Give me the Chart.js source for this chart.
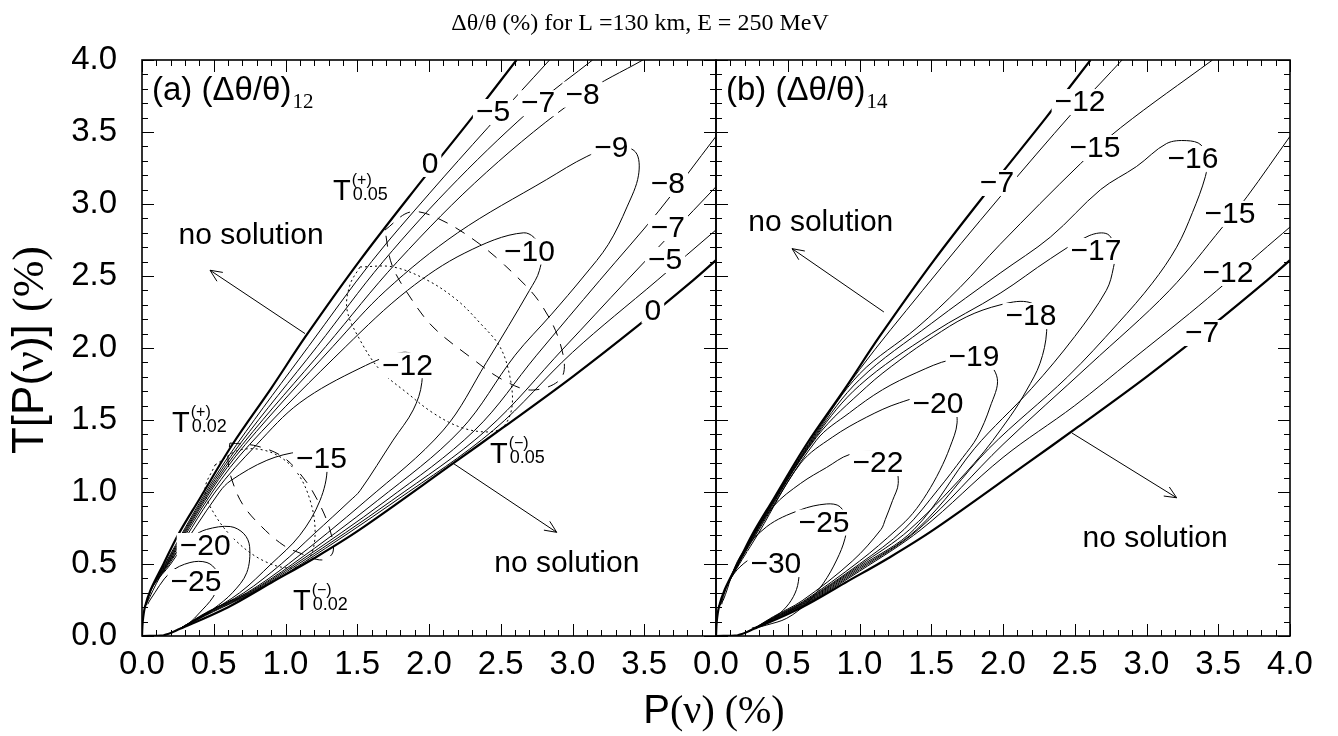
<!DOCTYPE html>
<html>
<head>
<meta charset="utf-8">
<script src="https://cdn.jsdelivr.net/npm/chart.js@4.4.1/dist/chart.umd.min.js"></script>
<style>
  html, body { margin:0; padding:0; background:#ffffff; }
  #wrap { position:relative; width:1338px; height:736px; overflow:hidden; background:#fff; }
  #wrap canvas { position:absolute; left:0; top:0; }
</style>
</head>
<body>
<div id="wrap">
  <canvas id="chartA" width="1338" height="736"></canvas>
  <canvas id="chartB" width="1338" height="736"></canvas>
</div>
<script>
// ================= DATA =================
const figureTitle = 'Δθ/θ (%) for L =130 km, E = 250 MeV';
const xAxisTitle = ['P', '(ν) (%)'];
const yAxisTitle = ['T[P(', 'ν', ')] ', '(%)'];
const axisMin = 0, axisMax = 4, majorStep = 0.5, minorStep = 0.1;

// boundaries T(+)0.05 (upper) and T(-)0.05 (lower), same in both panels
const boundUpper = [[0,0],[0.005,0.1],[0.02,0.2],[0.06,0.32],[0.15,0.5],[0.25,0.7],[0.4,0.95],[0.63,1.33],[0.9,1.72],[1.14,2.08],[1.52,2.61],[1.94,3.15],[2.3,3.6],[2.61,4.0]];
const boundLower = [[0,0],[0.15,0.005],[0.265,0.05],[0.6,0.2],[0.9,0.37],[1.2,0.54],[1.52,0.74],[2.17,1.2],[2.52,1.45],[3.0,1.8],[3.45,2.15],[3.84,2.47],[4.0,2.61]];

// panel (a): (Δθ/θ)12 contours
const a_m5  = [[0.02,0.2],[0.07,0.34],[0.16,0.5],[0.445,1.0],[0.66,1.33],[1.16,2.01],[1.6,2.6],[2.0,3.07],[2.41,3.53],[2.84,4.0],null,[4.0,2.82],[3.59,2.47],[3.0,1.97],[2.45,1.43],[1.77,0.94],[1.11,0.5],[0.77,0.3],[0.5,0.17],[0.27,0.055]];
const a_m7  = [[0.02,0.2],[0.07,0.34],[0.165,0.5],[0.455,1.0],[0.68,1.33],[1.22,2.01],[1.68,2.6],[2.2,3.17],[2.76,3.7],[3.14,4.0],null,[4.0,3.12],[3.38,2.47],[2.94,2.0],[2.40,1.43],[1.74,0.94],[1.09,0.5],[0.76,0.3],[0.49,0.17],[0.27,0.055]];
const a_m8  = [[0.02,0.2],[0.07,0.34],[0.17,0.5],[0.465,1.0],[0.70,1.33],[1.28,2.01],[1.78,2.6],[2.4,3.22],[3.07,3.76],[3.49,4.0],null,[4.0,3.47],[3.6,2.95],[3.19,2.47],[2.75,1.95],[2.32,1.43],[1.70,0.94],[1.07,0.5],[0.75,0.3],[0.48,0.17],[0.27,0.055]];
const a_m9  = [[0.02,0.2],[0.07,0.34],[0.175,0.5],[0.475,1.0],[0.72,1.33],[1.33,2.01],[1.7,2.4],[2.2,2.8],[2.82,3.17],[3.1,3.33],[3.3,3.40],[3.44,3.36],[3.46,3.2],[3.38,2.98],[3.25,2.72],[3.08,2.5],[2.85,2.23],[2.6,1.95],[2.22,1.43],[1.64,0.94],[1.05,0.5],[0.74,0.3],[0.47,0.17],[0.27,0.055]];
const a_m10 = [[0.02,0.2],[0.07,0.34],[0.18,0.5],[0.49,1.0],[0.75,1.33],[1.42,2.01],[1.85,2.4],[2.25,2.66],[2.66,2.80],[2.78,2.70],[2.77,2.54],[2.70,2.40],[2.4,1.9],[2.10,1.43],[1.56,0.94],[1.02,0.5],[0.73,0.3],[0.46,0.17],[0.27,0.055]];
const a_m12 = [[0.02,0.2],[0.07,0.34],[0.19,0.5],[0.51,1.0],[0.80,1.33],[1.1,1.62],[1.52,1.86],[1.82,1.97],[1.93,1.92],[1.95,1.76],[1.89,1.57],[1.75,1.36],[1.52,1.01],[1.45,0.94],[1.2,0.71],[0.97,0.5],[0.71,0.3],[0.45,0.16],[0.27,0.055]];
const a_m15 = [[0.02,0.2],[0.08,0.35],[0.2,0.5],[0.54,1.0],[0.62,1.08],[0.87,1.22],[1.10,1.28],[1.24,1.27],[1.29,1.17],[1.24,0.94],[1.1,0.7],[0.9,0.5],[0.68,0.3],[0.44,0.15],[0.27,0.055]];
const a_m20 = [[0.03,0.22],[0.125,0.41],[0.24,0.58],[0.355,0.69],[0.45,0.74],[0.615,0.76],[0.71,0.71],[0.75,0.62],[0.73,0.44],[0.63,0.30],[0.5,0.19],[0.38,0.11],[0.27,0.055]];
const a_m25 = [[0.04,0.22],[0.056,0.25],[0.195,0.44],[0.334,0.51],[0.453,0.51],[0.52,0.45],[0.53,0.36],[0.495,0.27],[0.40,0.16],[0.33,0.09],[0.27,0.055]];
// error ellipses in panel (a)
const a_dash05 = [[1.693,2.819],[1.868,2.944],[2.056,2.903],[2.334,2.736],[2.585,2.521],[2.774,2.313],[2.913,2.035],[2.927,1.799],[2.725,1.708],[2.516,1.778],[2.286,1.938],[2.028,2.146],[1.868,2.354],[1.742,2.576],[1.693,2.819]];
const a_dot05  = [[1.519,2.563],[1.749,2.563],[1.986,2.472],[2.195,2.333],[2.355,2.174],[2.495,2.007],[2.564,1.799],[2.578,1.590],[2.516,1.451],[2.404,1.417],[2.216,1.451],[2.028,1.549],[1.847,1.688],[1.659,1.847],[1.519,2.056],[1.429,2.264],[1.449,2.438],[1.519,2.563]];
const a_dash02 = [[0.613,1.340],[0.801,1.319],[0.983,1.243],[1.136,1.083],[1.240,0.910],[1.310,0.736],[1.331,0.583],[1.254,0.528],[1.101,0.576],[0.983,0.632],[0.836,0.757],[0.704,0.910],[0.627,1.083],[0.599,1.222],[0.613,1.340]];
const a_dot02  = [[0.509,1.188],[0.683,1.292],[0.892,1.278],[1.066,1.153],[1.171,0.944],[1.206,0.701],[1.157,0.528],[1.031,0.472],[0.836,0.528],[0.648,0.667],[0.509,0.840],[0.439,1.014],[0.509,1.188]];

// panel (b): (Δθ/θ)14 contours
const b_m12 = [[0.02,0.2],[0.07,0.34],[0.3,0.775],[0.7,1.42],[1.0,1.85],[1.44,2.40],[1.98,3.05],[2.49,3.64],[2.68,3.84],[2.83,4.0],null,[4.0,2.84],[3.79,2.66],[3.55,2.45],[3.30,2.24],[2.9,1.92],[2.5,1.60],[2.0,1.24],[1.43,0.74],[1.0,0.45],[0.6,0.205],[0.4,0.11],[0.27,0.055]];
const b_m15 = [[0.02,0.2],[0.07,0.34],[0.3,0.77],[0.7,1.41],[1.0,1.82],[1.4,2.14],[1.70,2.42],[1.98,2.72],[2.54,3.28],[2.82,3.53],[3.46,4.0],null,[4.0,3.47],[3.70,3.05],[3.53,2.84],[3.16,2.40],[2.6,1.88],[2.0,1.33],[1.41,0.74],[1.0,0.46],[0.6,0.21],[0.4,0.115],[0.27,0.055]];
const b_m16 = [[0.02,0.2],[0.07,0.34],[0.3,0.765],[0.7,1.40],[1.0,1.78],[1.5,2.17],[1.98,2.52],[2.33,2.77],[2.68,3.10],[2.93,3.26],[3.14,3.42],[3.28,3.44],[3.38,3.41],[3.42,3.3],[3.41,3.19],[3.32,2.94],[3.21,2.70],[3.04,2.45],[2.80,2.17],[2.45,1.80],[1.9,1.30],[1.40,0.74],[1.0,0.47],[0.6,0.215],[0.4,0.12],[0.27,0.055]];
const b_m17 = [[0.02,0.2],[0.07,0.34],[0.3,0.76],[0.7,1.39],[1.0,1.74],[1.5,2.1],[1.98,2.38],[2.33,2.62],[2.6,2.78],[2.73,2.79],[2.78,2.68],[2.77,2.56],[2.72,2.40],[2.5,2.08],[2.2,1.72],[1.8,1.3],[1.38,0.74],[1.0,0.48],[0.6,0.22],[0.4,0.12],[0.27,0.055]];
const b_m18 = [[0.02,0.2],[0.07,0.34],[0.3,0.75],[0.7,1.38],[1.05,1.731],[1.282,1.917],[1.514,2.078],[1.747,2.217],[1.979,2.299],[2.165,2.321],[2.28,2.25],[2.304,2.113],[2.258,1.894],[2.165,1.708],[2.049,1.523],[1.8,1.2],[1.35,0.74],[1.0,0.49],[0.6,0.225],[0.4,0.125],[0.27,0.055]];
const b_m19 = [[0.02,0.2],[0.07,0.34],[0.3,0.74],[0.70,1.36],[0.93,1.55],[1.16,1.71],[1.40,1.83],[1.631,1.917],[1.85,1.93],[1.96,1.79],[1.91,1.59],[1.82,1.38],[1.72,1.24],[1.55,1.02],[1.31,0.74],[1.0,0.5],[0.6,0.23],[0.4,0.125],[0.27,0.055]];
const b_m20 = [[0.02,0.2],[0.07,0.34],[0.3,0.72],[0.59,1.20],[0.81,1.38],[1.05,1.52],[1.28,1.62],[1.51,1.67],[1.65,1.6],[1.68,1.48],[1.63,1.31],[1.56,1.15],[1.47,0.99],[1.37,0.85],[1.26,0.74],[1.0,0.52],[0.6,0.235],[0.4,0.13],[0.27,0.055]];
const b_m22 = [[0.02,0.2],[0.07,0.34],[0.2,0.6],[0.40,0.90],[0.59,1.06],[0.77,1.17],[0.93,1.26],[1.126,1.28],[1.24,1.2],[1.27,1.06],[1.23,0.94],[1.18,0.81],[1.15,0.74],[0.95,0.52],[0.6,0.245],[0.4,0.135],[0.27,0.055]];
const b_m25 = [[0.03,0.22],[0.051,0.25],[0.167,0.551],[0.353,0.759],[0.585,0.875],[0.771,0.917],[0.864,0.898],[0.91,0.8],[0.899,0.678],[0.841,0.528],[0.748,0.366],[0.632,0.227],[0.493,0.123],[0.353,0.076],[0.27,0.055]];
const b_m30 = [[0.04,0.22],[0.051,0.273],[0.098,0.389],[0.167,0.48],[0.284,0.5625],[0.376,0.585],[0.5,0.56],[0.57,0.48],[0.574,0.377],[0.539,0.273],[0.469,0.18],[0.376,0.111],[0.284,0.065],[0.25,0.055]];

// contour value labels: [text, x, y]
const labelsA = [['0',2.007,3.278],['−5',2.446,3.639],['−7',2.76,3.70],['−8',3.07,3.76],['−9',3.27,3.39],['−8',3.665,3.139],['−7',3.665,2.833],['−5',3.645,2.611],['0',3.56,2.26],['−10',2.70,2.67],['−12',1.85,1.88],['−15',1.25,1.23],['−20',0.44,0.625],['−25',0.376,0.375]];
const labelsB = [['−7',1.958,3.146],['−12',2.537,3.708],['−15',2.641,3.389],['−16',3.324,3.313],['−15',3.582,2.931],['−12',3.568,2.521],['−7',3.387,2.104],['−17',2.648,2.674],['−18',2.195,2.222],['−19',1.798,1.938],['−20',1.547,1.611],['−22',1.129,1.201],['−25',0.753,0.788],['−30',0.417,0.5]];
// "no solution" notes: [text, x, y]
const notesA = [['no solution',0.76,2.78],['no solution',2.96,0.50]];
const notesB = [['no solution',0.73,2.87],['no solution',3.06,0.674]];
// arrows: [x0, y0, x1, y1]
const arrowsA = [[1.136,2.10,0.474,2.54],[2.167,1.20,2.89,0.72]];
const arrowsB = [[1.17,2.25,0.53,2.69],[2.48,1.41,3.21,0.96]];
// boundary names: [sup, sub, x, y]
const tNamesA = [['(+)','0.05',1.331,3.028],['(+)','0.02',0.209,1.417],['(−)','0.05',2.425,1.201],['(−)','0.02',1.052,0.181]];
const panelNames = [['(a) (Δθ/θ)','12'],['(b) (Δθ/θ)','14']];

// ================= RENDERING =================
const SANS = '"Liberation Sans", Arial, Helvetica, sans-serif';
const SERIF = '"Liberation Serif", "Times New Roman", Times, serif';
const toPts = arr => arr.map(p => p ? {x:p[0], y:p[1]} : {x:null, y:null});

function ds(arr, w, dash) {
  return { data: toPts(arr), showLine:true, pointRadius:0, pointHoverRadius:0,
    borderColor:'#000', borderWidth:w, borderDash:dash || [], tension:0.35,
    fill:false, spanGaps:false };
}

const decor = {
  id:'decor',
  afterDatasetsDraw(chart, args, o) {
    const {ctx, chartArea:ca} = chart;
    const xs = chart.scales.x, ys = chart.scales.y;
    const X = v => xs.getPixelForValue(v), Y = v => ys.getPixelForValue(v);
    ctx.save();
    ctx.strokeStyle = '#000'; ctx.fillStyle = '#000'; ctx.lineWidth = 1;
    (o.arrows || []).forEach(a => {
      const x1 = X(a[0]), y1 = Y(a[1]), x2 = X(a[2]), y2 = Y(a[3]);
      ctx.beginPath(); ctx.moveTo(x1, y1); ctx.lineTo(x2, y2); ctx.stroke();
      const ang = Math.atan2(y2 - y1, x2 - x1), L = 13, w = 0.42;
      ctx.beginPath();
      ctx.moveTo(x2 - L * Math.cos(ang - w), y2 - L * Math.sin(ang - w));
      ctx.lineTo(x2, y2);
      ctx.lineTo(x2 - L * Math.cos(ang + w), y2 - L * Math.sin(ang + w));
      ctx.stroke();
    });
    ctx.font = '30px ' + SANS; ctx.textAlign = 'center'; ctx.textBaseline = 'middle';
    (o.labels || []).forEach(l => {
      const px = X(l[1]), py = Y(l[2]);
      const w = ctx.measureText(l[0]).width;
      ctx.fillStyle = '#fff'; ctx.fillRect(px - w/2 - 3, py - 13, w + 6, 26);
      ctx.fillStyle = '#000'; ctx.fillText(l[0], px, py + 1);
    });
    ctx.font = '30px ' + SANS;
    (o.notes || []).forEach(n => ctx.fillText(n[0], X(n[1]), Y(n[2])));
    ctx.textAlign = 'left'; ctx.textBaseline = 'alphabetic';
    (o.tnames || []).forEach(t => {
      const px = X(t[2]), py = Y(t[3]);
      ctx.font = '29px ' + SANS; ctx.fillText('T', px, py);
      const tw = ctx.measureText('T').width;
      ctx.font = '16px ' + SANS; ctx.fillText(t[0], px + tw + 1, py - 15);
      ctx.font = '18px ' + SANS; ctx.fillText(t[1], px + tw + 2, py);
    });
    if (o.panel) {
      ctx.font = '33px ' + SANS;
      ctx.fillText(o.panel[0], ca.left + 10, ca.top + 40);
      const w = ctx.measureText(o.panel[0]).width;
      ctx.font = '21px ' + SERIF;
      ctx.fillText(o.panel[1], ca.left + 10 + w + 1, ca.top + 48);
    }
    ctx.restore();
  },
  afterDraw(chart, args, o) {
    const {ctx, chartArea:ca} = chart;
    const xs = chart.scales.x, ys = chart.scales.y;
    ctx.save();
    ctx.strokeStyle = '#000';
    ctx.lineWidth = 1;
    ctx.beginPath();
    const n = Math.round((axisMax - axisMin) / minorStep);
    for (let i = 0; i <= n; i++) {
      const v = axisMin + i * minorStep;
      const major = (i % Math.round(majorStep / minorStep)) === 0;
      const L = major ? 12 : 6;
      const px = Math.round(xs.getPixelForValue(v)) + 0.5;
      ctx.moveTo(px, ca.bottom); ctx.lineTo(px, ca.bottom - L);
      ctx.moveTo(px, ca.top); ctx.lineTo(px, ca.top + L);
      const py = Math.round(ys.getPixelForValue(v)) + 0.5;
      ctx.moveTo(ca.left, py); ctx.lineTo(ca.left + L, py);
      ctx.moveTo(ca.right, py); ctx.lineTo(ca.right - L, py);
    }
    ctx.stroke();
    ctx.lineWidth = 1.6;
    ctx.strokeRect(ca.left, ca.top, ca.right - ca.left, ca.bottom - ca.top);
    if (o.figure) {
      ctx.fillStyle = '#000';
      ctx.textBaseline = 'alphabetic';
      ctx.font = '24px ' + SERIF; ctx.textAlign = 'center';
      ctx.fillText(figureTitle, 640, 30);
      ctx.textAlign = 'left';
      ctx.font = '40px ' + SANS; const w1 = ctx.measureText(xAxisTitle[0]).width;
      ctx.font = '40px ' + SERIF; const w2 = ctx.measureText(xAxisTitle[1]).width;
      let x0 = 714 - (w1 + w2) / 2;
      ctx.font = '40px ' + SANS; ctx.fillText(xAxisTitle[0], x0, 723);
      ctx.font = '40px ' + SERIF; ctx.fillText(xAxisTitle[1], x0 + w1, 723);
      ctx.translate(27, 350); ctx.rotate(-Math.PI / 2);
      const fonts = ['44px ' + SANS, '44px ' + SERIF, '44px ' + SANS, '44px ' + SERIF];
      let tot = 0; const ws = [];
      yAxisTitle.forEach((s, i) => { ctx.font = fonts[i]; const w = ctx.measureText(s).width; ws.push(w); tot += w; });
      let u = -tot / 2;
      yAxisTitle.forEach((s, i) => { ctx.font = fonts[i]; ctx.fillText(s, u, 15.7); u += ws[i]; });
    }
    ctx.restore();
  }
};

function commonScales(showY, hideLastX) {
  return {
    x: { type:'linear', position:'bottom', min:axisMin, max:axisMax,
      grid:{display:false, drawTicks:false}, border:{display:false},
      ticks:{ stepSize:majorStep, padding:12, color:'#000', autoSkip:false, maxRotation:0,
        font:{family:SANS, size:33, lineHeight:1},
        callback:(v) => (hideLastX && v === axisMax) ? '' : Number(v).toFixed(1) },
      afterFit(s){ s.height = 100; } },
    y: { type:'linear', position:'left', min:axisMin, max:axisMax, display:showY,
      grid:{display:false, drawTicks:false}, border:{display:false},
      ticks:{ stepSize:majorStep, padding:25, color:'#000',
        font:{family:SANS, size:33, lineHeight:1},
        callback:(v) => Number(v).toFixed(1) },
      afterFit(s){ s.width = showY ? 142 : 0; } }
  };
}

const curvesA = [
  ds(boundUpper, 2.2), ds(boundLower, 2.2),
  ds(a_m5, 1), ds(a_m7, 1), ds(a_m8, 1), ds(a_m9, 1), ds(a_m10, 1),
  ds(a_m12, 1), ds(a_m15, 1), ds(a_m20, 1), ds(a_m25, 1),
  ds(a_dash05, 1, [11, 9]), ds(a_dot05, 1, [2, 3]),
  ds(a_dash02, 1, [11, 9]), ds(a_dot02, 1, [2, 3])
];
const curvesB = [
  ds(boundUpper, 2.2), ds(boundLower, 2.2),
  ds(b_m12, 1), ds(b_m15, 1), ds(b_m16, 1), ds(b_m17, 1), ds(b_m18, 1),
  ds(b_m19, 1), ds(b_m20, 1), ds(b_m22, 1), ds(b_m25, 1), ds(b_m30, 1)
];

Chart.defaults.color = '#000';

new Chart(document.getElementById('chartA'), {
  type:'scatter',
  data:{ datasets: curvesA },
  options:{
    responsive:false, animation:false, devicePixelRatio:1, events:[],
    layout:{ padding:{ left:0, right:622, top:60, bottom:0 } },
    plugins:{ legend:{display:false}, tooltip:{enabled:false},
      decor:{ labels:labelsA, notes:notesA, arrows:arrowsA, tnames:tNamesA, panel:panelNames[0], figure:true } },
    scales: commonScales(true, true)
  },
  plugins:[decor]
});

new Chart(document.getElementById('chartB'), {
  type:'scatter',
  data:{ datasets: curvesB },
  options:{
    responsive:false, animation:false, devicePixelRatio:1, events:[],
    layout:{ padding:{ left:716, right:48, top:60, bottom:0 } },
    plugins:{ legend:{display:false}, tooltip:{enabled:false},
      decor:{ labels:labelsB, notes:notesB, arrows:arrowsB, panel:panelNames[1], figure:false } },
    scales: commonScales(false, false)
  },
  plugins:[decor]
});
</script>
</body>
</html>
